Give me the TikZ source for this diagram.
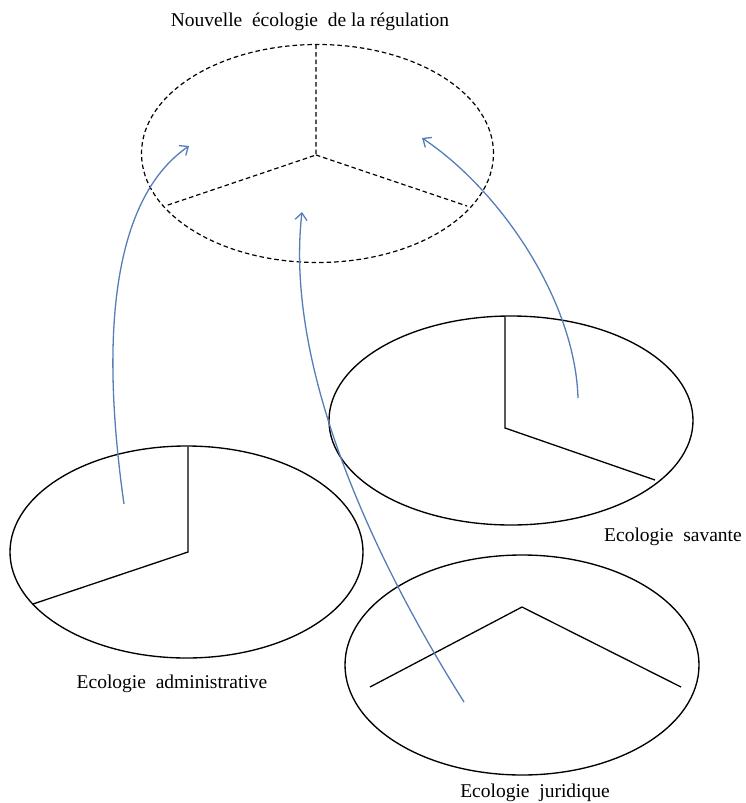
\documentclass[tikz,border=0pt]{standalone}
\usepackage{fontspec}
\setmainfont{Liberation Serif}
\usetikzlibrary{arrows.meta}
\definecolor{arrowblue}{RGB}{86,125,184}
\tikzset{
  ell/.style={draw=black, line width=1.35pt},
  dell/.style={draw=black, line width=1.2pt, dash pattern=on 4.5pt off 3pt},
  sector/.style={draw=black, line width=1.3pt},
  dsector/.style={draw=black, line width=1.2pt, dash pattern=on 4.5pt off 3pt},
  flow/.style={draw=arrowblue, line width=1.3pt, -{Straight Barb[length=7pt,width=12pt,line width=1.3pt]}},
  lab/.style={anchor=base, inner sep=0pt, font=\fontsize{19.5}{22}\selectfont}
}
\begin{document}
\begin{tikzpicture}[x=1pt,y=-1pt]
\useasboundingbox (0,0) rectangle (745,803);
% top dashed ellipse
\coordinate (tc) at (316,155);
\draw[dell] (317.5,153.5) ellipse [x radius=176pt, y radius=109pt];
\draw[dsector] (316,44.5) -- (tc) -- (165,206);
\draw[dsector] (tc) -- (467,206);
\node[lab] (title) at (310,26) {Nouvelle~ écologie~ de la régulation};
% savante
\draw[ell] (511,420.5) ellipse [x radius=182pt, y radius=104.5pt];
\draw[sector] (505,316.5) -- (505,428) -- (655,480);
\node[lab] (sav) at (673,541) {Ecologie~ savante};
% administrative
\draw[ell] (186.5,552) ellipse [x radius=176.5pt, y radius=106pt];
\draw[sector] (188,446.5) -- (188,552) -- (33,604);
\node[lab] (adm) at (172,688) {Ecologie~ administrative};
% juridique
\draw[ell] (522,665) ellipse [x radius=177pt, y radius=110pt];
\draw[sector] (370,687) -- (522,607) -- (681,687);
\node[lab] (jur) at (535,797) {Ecologie~ juridique};
% arrows
\coordinate (a1s) at (124,504);
\coordinate (a1e) at (189,146);
\coordinate (a2s) at (464,702);
\coordinate (a2e) at (302,212);
\coordinate (a3s) at (578,398);
\coordinate (a3e) at (422,138);
\draw[flow] (a1s) .. controls (95,300) and (125,190) .. (a1e);
\draw[flow] (a2s) .. controls (365,545) and (285,360) .. (a2e);
\draw[flow] (a3s) .. controls (575,300) and (500,190) .. (a3e);
\end{tikzpicture}
\end{document}
